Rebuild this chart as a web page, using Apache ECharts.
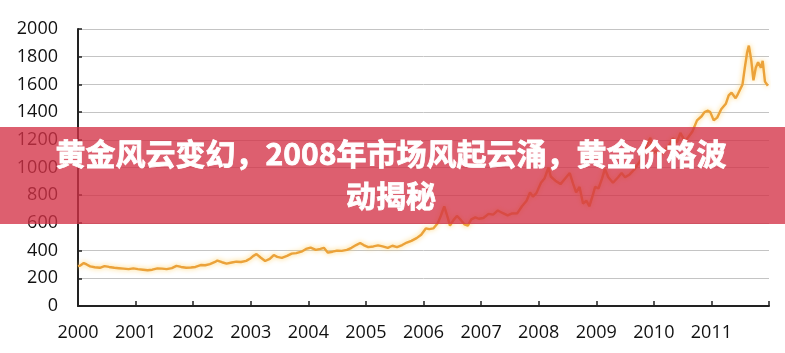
<!DOCTYPE html>
<html>
<head>
<meta charset="utf-8">
<script src="https://cdn.jsdelivr.net/npm/echarts@6/dist/echarts.min.js"></script>
<style>
  html, body { margin: 0; padding: 0; background: #fff; }
  #chart { width: 785px; height: 353px; }
</style>
</head>
<body>
<div id="chart"></div>
<script>
// decimal year of each reading, and the gold price (USD/oz)
const times = [
  2000.00, 2000.04, 2000.10, 2000.15, 2000.21, 2000.29, 2000.38, 2000.46, 2000.54, 2000.63, 2000.71, 2000.79, 2000.88, 2000.96,
  2001.04, 2001.13, 2001.21, 2001.29, 2001.38, 2001.46, 2001.54, 2001.63, 2001.71, 2001.79, 2001.88, 2001.96,
  2002.04, 2002.13, 2002.21, 2002.29, 2002.38, 2002.42, 2002.50, 2002.58, 2002.67, 2002.75, 2002.83, 2002.92,
  2003.00, 2003.04, 2003.10, 2003.17, 2003.25, 2003.33, 2003.40, 2003.46, 2003.54, 2003.63, 2003.71, 2003.79, 2003.88, 2003.96,
  2004.04, 2004.13, 2004.21, 2004.27, 2004.34, 2004.42, 2004.50, 2004.58, 2004.67, 2004.75, 2004.83, 2004.90, 2004.96,
  2005.04, 2005.13, 2005.21, 2005.29, 2005.38, 2005.46, 2005.54, 2005.63, 2005.71, 2005.79, 2005.88, 2005.96,
  2006.04, 2006.10, 2006.17, 2006.25, 2006.30, 2006.36, 2006.42, 2006.46, 2006.52, 2006.58, 2006.63, 2006.71, 2006.77, 2006.83, 2006.90, 2006.96,
  2007.04, 2007.13, 2007.21, 2007.29, 2007.38, 2007.46, 2007.54, 2007.63, 2007.71, 2007.79, 2007.85, 2007.90, 2007.96,
  2008.04, 2008.10, 2008.17, 2008.21, 2008.29, 2008.38, 2008.46, 2008.54, 2008.60, 2008.65, 2008.71, 2008.77, 2008.83, 2008.88, 2008.94, 2008.98,
  2009.04, 2009.10, 2009.15, 2009.21, 2009.29, 2009.38, 2009.44, 2009.50, 2009.58, 2009.67, 2009.75, 2009.83, 2009.90, 2009.94, 2009.98,
  2010.04, 2010.10, 2010.17, 2010.25, 2010.33, 2010.40, 2010.46, 2010.54, 2010.60, 2010.67, 2010.75, 2010.83, 2010.88, 2010.94, 2010.98,
  2011.04, 2011.10, 2011.17, 2011.25, 2011.30, 2011.35, 2011.42, 2011.46, 2011.54, 2011.58, 2011.62, 2011.65, 2011.69, 2011.73, 2011.77, 2011.81, 2011.86, 2011.89, 2011.93, 2011.98
];
const prices = [
  288, 292, 310, 300, 286, 280, 276, 288, 282, 276, 273, 270, 266, 272,
  266, 262, 258, 262, 272, 270, 266, 274, 290, 282, 276, 278,
  282, 296, 294, 303, 318, 328, 316, 306, 314, 320, 318, 326,
  345, 360, 375, 350, 325, 340, 368, 355, 348, 362, 378, 382, 392, 412,
  422, 405, 412, 420, 385, 392, 400, 398, 405, 420, 440, 455, 440,
  425, 430, 438, 430, 420, 435, 425, 440, 458, 470, 490, 515,
  560, 555, 560, 600, 650, 720, 640, 580, 620, 650, 630, 590, 580, 625, 640, 630,
  635, 665, 660, 690, 670, 655, 668, 670, 720, 760, 820, 790, 815,
  890, 920, 1000, 935, 905, 880, 920, 960, 880, 820, 860, 740, 760, 720, 800, 860,
  850, 920, 990, 930, 890, 930, 960, 930, 950, 990, 1040, 1100, 1180, 1215, 1100,
  1120, 1080, 1120, 1150, 1210, 1180, 1250, 1190, 1220, 1260, 1340, 1370, 1400, 1410, 1400,
  1340, 1360, 1420, 1460, 1520, 1540, 1500, 1530, 1600, 1720, 1830, 1880, 1780, 1630, 1720, 1760, 1720, 1770, 1620, 1590
];
const yearTicks = [2000, 2001, 2002, 2003, 2004, 2005, 2006, 2007, 2008, 2009, 2010, 2011];
const priceTicks = [0, 200, 400, 600, 800, 1000, 1200, 1400, 1600, 1800, 2000];
const bannerText = '黄金风云变幻，2008年市场风起云涌，黄金价格波\n动揭秘';

const chart = echarts.init(document.getElementById('chart'));

const option = {
  animation: false,
  grid: {
    left: 78,
    right: 16,
    top: 29,
    bottom: 47,
  },
  xAxis: {
    type: 'value',
    min: yearTicks[0],
    max: yearTicks[yearTicks.length - 1] + 1,
    interval: 1,
    axisLine: {
      lineStyle: { color: '#222', width: 2 },
    },
    axisTick: {
      inside: true,
      length: 5,
      lineStyle: { color: '#222', width: 1.5 },
    },
    axisLabel: {
      margin: 18,
      fontSize: 18,
      fontFamily: 'Open Sans',
      color: '#111',
      formatter: (v) => (yearTicks.indexOf(v) >= 0 ? String(v) : ''),
    },
    splitLine: { show: false },
  },
  yAxis: {
    type: 'value',
    min: priceTicks[0],
    max: priceTicks[priceTicks.length - 1],
    interval: priceTicks[1] - priceTicks[0],
    axisLine: {
      show: true,
      lineStyle: { color: '#222', width: 2 },
    },
    axisTick: {
      show: true,
      inside: true,
      length: 4,
      lineStyle: { color: '#222', width: 1.5 },
    },
    axisLabel: {
      margin: 20,
      fontSize: 18,
      fontFamily: 'Open Sans',
      color: '#111',
      formatter: (v) => String(v),
    },
    splitLine: {
      lineStyle: { color: '#c4c4c4', width: 1 },
    },
  },
  series: [
    {
      type: 'line',
      data: times.map((t, i) => [t, prices[i]]),
      showSymbol: false,
      lineStyle: {
        color: '#eba23a',
        width: 2.4,
        shadowColor: 'rgba(255, 205, 90, 0.9)',
        shadowBlur: 5,
      },
    },
  ],
  graphic: [
    {
      type: 'rect',
      z: 100,
      shape: { x: 0, y: 127, width: 785, height: 97 },
      style: { fill: 'rgba(212, 50, 70, 0.78)' },
    },
    {
      type: 'text',
      z: 101,
      x: 391,
      y: 175,
      style: {
        text: bannerText,
        fill: '#fff',
        fontSize: 30,
        fontWeight: 'bold',
        fontFamily: 'Noto Sans CJK SC',
        lineHeight: 42,
        align: 'center',
        verticalAlign: 'middle',
        stroke: '#fff',
        lineWidth: 0.8,
      },
    },
  ],
};

chart.setOption(option);

window.addEventListener('resize', () => chart.resize());
</script>
</body>
</html>
